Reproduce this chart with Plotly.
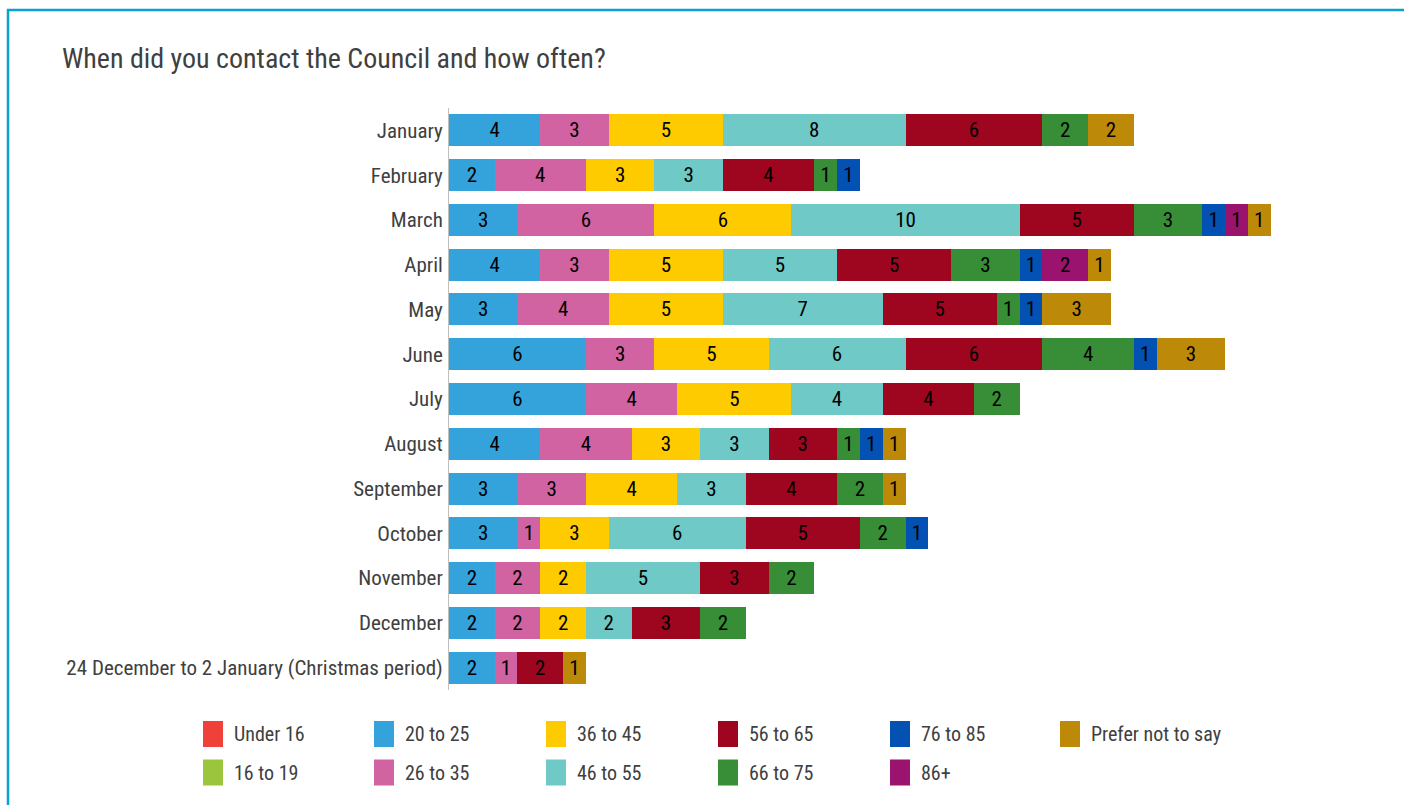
import plotly.graph_objects as go

# Contact periods (top to bottom)
periods = [
    "January", "February", "March", "April", "May", "June", "July",
    "August", "September", "October", "November", "December",
    "24 December to 2 January (Christmas period)",
]

# Age groups, in stacking order
age_groups = [
    "Under 16", "16 to 19", "20 to 25", "26 to 35", "36 to 45", "46 to 55",
    "56 to 65", "66 to 75", "76 to 85", "86+", "Prefer not to say",
]

colors = [
    "#F0403A", "#9AC53C", "#34A3DC", "#D163A3", "#FDCB00", "#6FC9C6",
    "#9E0620", "#388E36", "#0351B3", "#9A136E", "#BD8908",
]

# Counts per age group, one value per period
under_16 = [0, 0, 0, 0, 0, 0, 0, 0, 0, 0, 0, 0, 0]
age_16_19 = [0, 0, 0, 0, 0, 0, 0, 0, 0, 0, 0, 0, 0]
age_20_25 = [4, 2, 3, 4, 3, 6, 6, 4, 3, 3, 2, 2, 2]
age_26_35 = [3, 4, 6, 3, 4, 3, 4, 4, 3, 1, 2, 2, 1]
age_36_45 = [5, 3, 6, 5, 5, 5, 5, 3, 4, 3, 2, 2, 0]
age_46_55 = [8, 3, 10, 5, 7, 6, 4, 3, 3, 6, 5, 2, 0]
age_56_65 = [6, 4, 5, 5, 5, 6, 4, 3, 4, 5, 3, 3, 2]
age_66_75 = [2, 1, 3, 3, 1, 4, 2, 1, 2, 2, 2, 2, 0]
age_76_85 = [0, 1, 1, 1, 1, 1, 0, 1, 0, 1, 0, 0, 0]
age_86_plus = [0, 0, 1, 2, 0, 0, 0, 0, 0, 0, 0, 0, 0]
prefer_not = [2, 0, 1, 1, 3, 3, 0, 1, 1, 0, 0, 0, 1]

series = [
    under_16, age_16_19, age_20_25, age_26_35, age_36_45, age_46_55,
    age_56_65, age_66_75, age_76_85, age_86_plus, prefer_not,
]

FONT = "Liberation Sans Narrow, Arial Narrow, Roboto Condensed, Liberation Sans, sans-serif"
TEXT_GREY = "#404040"

W, H = 1404, 805
ML, MR, MT, MB = 449, 42, 108, 115
PW, PH = W - ML - MR, H - MT - MB


def px_x(px):
    return (px - ML) / PW


def px_y(py):
    return (H - MB - py) / PH


fig = go.Figure()
for name, color, vals in zip(age_groups, colors, series):
    fig.add_trace(go.Bar(
        y=periods,
        x=vals,
        name=name,
        orientation="h",
        marker=dict(color=color, line=dict(width=0)),
        text=[str(v) if v else "" for v in vals],
        textposition="inside",
        insidetextanchor="middle",
        textangle=0,
        constraintext="none",
        textfont=dict(family=FONT, size=21, color="black"),
        showlegend=False,
    ))

shapes = []
annotations = []

# Legend: two rows, filled column by column
col_x = [203, 374, 546, 718, 890, 1060]
row_y = [734, 772.5]
for i, (name, color) in enumerate(zip(age_groups, colors)):
    col, row = divmod(i, 2)
    x0 = col_x[col]
    yc = row_y[row]
    shapes.append(dict(
        type="rect", xref="paper", yref="paper",
        x0=px_x(x0), x1=px_x(x0 + 20),
        y0=px_y(yc + 13), y1=px_y(yc - 13),
        fillcolor=color, line=dict(width=0), layer="above",
    ))
    annotations.append(dict(
        xref="paper", yref="paper", x=px_x(x0 + 29), y=px_y(yc),
        xanchor="left", yanchor="middle", showarrow=False,
        text=name, font=dict(family=FONT, size=20, color=TEXT_GREY),
    ))

# Frame lines along the top and left edges
frame = "#0AA0D0"
shapes.append(dict(type="line", xref="paper", yref="paper",
                   x0=px_x(7), x1=px_x(W), y0=px_y(10), y1=px_y(10),
                   line=dict(color=frame, width=2.5)))
shapes.append(dict(type="line", xref="paper", yref="paper",
                   x0=px_x(8), x1=px_x(8), y0=px_y(9), y1=px_y(H),
                   line=dict(color=frame, width=2.5)))

fig.update_layout(
    width=W, height=H,
    margin=dict(l=ML, r=MR, t=MT, b=MB, pad=0),
    paper_bgcolor="white", plot_bgcolor="white",
    barmode="stack", bargap=0.285,
    showlegend=False,
    title=dict(
        text="When did you contact the Council and how often?",
        xref="container", yref="container",
        x=62 / W, y=1 - 58 / H, xanchor="left", yanchor="middle",
        font=dict(family=FONT, size=28, color=TEXT_GREY),
    ),
    xaxis=dict(range=[0, 40], visible=False, fixedrange=True),
    yaxis=dict(
        categoryorder="array", categoryarray=periods, autorange="reversed",
        showline=True, linecolor="#BFBFBF", linewidth=1,
        ticks="", showgrid=False, zeroline=False,
        ticklabelstandoff=1,
        tickfont=dict(family=FONT, size=21, color=TEXT_GREY),
    ),
    font=dict(family=FONT, color=TEXT_GREY),
    shapes=shapes,
    annotations=annotations,
)

fig.write_html("out.html")
